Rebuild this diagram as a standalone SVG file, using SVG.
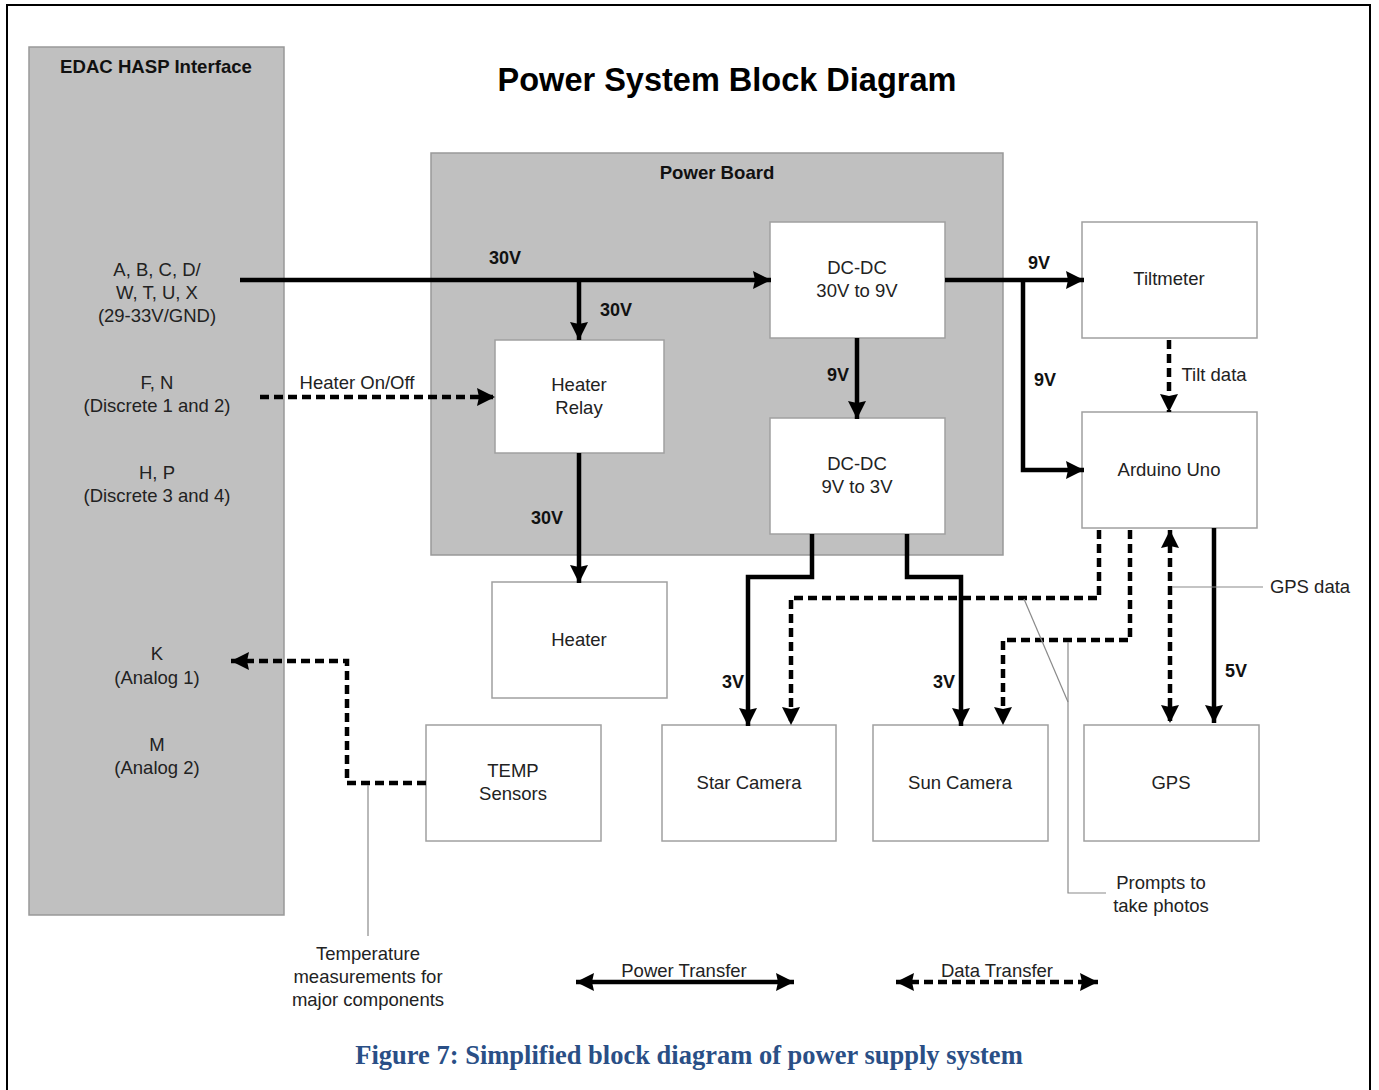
<svg xmlns="http://www.w3.org/2000/svg" width="1379" height="1090" viewBox="0 0 1379 1090">
<style>
.frame{fill:none;stroke:#000;stroke-width:2}
.panel{fill:#c0c0c0;stroke:#999;stroke-width:1.5}
.box{fill:#fff;stroke:#a0a0a0;stroke-width:1.5}
.t{font-family:"Liberation Sans",Arial,sans-serif;font-size:18.5px;fill:#222;text-anchor:middle}
.b{font-family:"Liberation Sans",Arial,sans-serif;font-weight:bold;font-size:18px;fill:#111;text-anchor:middle}
.hb{font-size:18.6px}
.title{font-family:"Liberation Sans",Arial,sans-serif;font-weight:bold;font-size:32.5px;fill:#000;text-anchor:middle}
.cap{font-family:"Liberation Serif","Times New Roman",serif;font-weight:bold;font-size:26.5px;fill:#2a4f86;text-anchor:middle}
.pw{fill:none;stroke:#000;stroke-width:4.5}
.dt{fill:none;stroke:#000;stroke-width:4.5;stroke-dasharray:9 5}
.call{fill:none;stroke:#8a8a8a;stroke-width:1.2}
</style>
<defs>
<marker id="ah" viewBox="0 0 18 18" refX="18" refY="9" markerWidth="18" markerHeight="18" markerUnits="userSpaceOnUse" orient="auto-start-reverse">
<path d="M0,0 L18,9 L0,18 L2,9 z" fill="#000"/>
</marker>
</defs>
<rect class="frame" x="7" y="5" width="1363" height="1100"/>
<g id="edac">
<rect class="panel" x="29" y="47" width="255" height="868"/>
<text class="b hb" x="156" y="73">EDAC HASP Interface</text>
<text class="t" x="157" y="276">A, B, C, D/</text>
<text class="t" x="157" y="299">W, T, U, X</text>
<text class="t" x="157" y="322">(29-33V/GND)</text>
<text class="t" x="157" y="389">F, N</text>
<text class="t" x="157" y="412">(Discrete 1 and 2)</text>
<text class="t" x="157" y="479">H, P</text>
<text class="t" x="157" y="502">(Discrete 3 and 4)</text>
<text class="t" x="157" y="660">K</text>
<text class="t" x="157" y="684">(Analog 1)</text>
<text class="t" x="157" y="751">M</text>
<text class="t" x="157" y="774">(Analog 2)</text>
</g>
<text class="title" x="727" y="91">Power System Block Diagram</text>
<g id="powerboard">
<rect class="panel" x="431" y="153" width="572" height="402"/>
<text class="b hb" x="717" y="179">Power Board</text>
</g>
<g id="dcdc1"><rect class="box" x="770" y="222" width="175" height="116"/><text class="t" x="857" y="274">DC-DC</text><text class="t" x="857" y="297">30V to 9V</text></g>
<g id="relay"><rect class="box" x="495" y="340" width="169" height="113"/><text class="t" x="579" y="391">Heater</text><text class="t" x="579" y="414">Relay</text></g>
<g id="dcdc2"><rect class="box" x="770" y="418" width="175" height="116"/><text class="t" x="857" y="470">DC-DC</text><text class="t" x="857" y="493">9V to 3V</text></g>
<g id="tiltmeter"><rect class="box" x="1082" y="222" width="175" height="116"/><text class="t" x="1169" y="285">Tiltmeter</text></g>
<g id="arduino"><rect class="box" x="1082" y="412" width="175" height="116"/><text class="t" x="1169" y="476">Arduino Uno</text></g>
<g id="heater"><rect class="box" x="492" y="582" width="175" height="116"/><text class="t" x="579" y="646">Heater</text></g>
<g id="temp"><rect class="box" x="426" y="725" width="175" height="116"/><text class="t" x="513" y="777">TEMP</text><text class="t" x="513" y="800">Sensors</text></g>
<g id="starcam"><rect class="box" x="662" y="725" width="174" height="116"/><text class="t" x="749" y="789">Star Camera</text></g>
<g id="suncam"><rect class="box" x="873" y="725" width="175" height="116"/><text class="t" x="960" y="789">Sun Camera</text></g>
<g id="gps"><rect class="box" x="1084" y="725" width="175" height="116"/><text class="t" x="1171" y="789">GPS</text></g>
<g id="connectors">
<path class="pw" d="M240,280 H771" marker-end="url(#ah)"/>
<path class="pw" d="M579,280 V340" marker-end="url(#ah)"/>
<path class="pw" d="M579,453 V583" marker-end="url(#ah)"/>
<path class="pw" d="M857,338 V419" marker-end="url(#ah)"/>
<path class="pw" d="M945,280 H1084" marker-end="url(#ah)"/>
<path class="pw" d="M1023,280 V470 H1084" marker-end="url(#ah)"/>
<path class="pw" d="M812,534 V577 H748 V726" marker-end="url(#ah)"/>
<path class="pw" d="M907,534 V577 H961 V726" marker-end="url(#ah)"/>
<path class="pw" d="M1214,528 V723" marker-end="url(#ah)"/>
<path class="dt" d="M260,397 H495" marker-end="url(#ah)"/>
<path class="dt" d="M1169,340 V412" marker-end="url(#ah)"/>
<path class="dt" d="M1099,530 V598 H791 V725" marker-end="url(#ah)"/>
<path class="dt" d="M1130,530 V640 H1003 V725" marker-end="url(#ah)"/>
<path class="dt" d="M1170,530 V723" marker-start="url(#ah)" marker-end="url(#ah)"/>
<path class="dt" d="M426,783 H347 V661 H231" marker-end="url(#ah)"/>
<path class="call" d="M1172,587 H1263"/>
<path class="call" d="M1024,599 L1068,702"/>
<path class="call" d="M1068,642 V893 H1106"/>
<path class="call" d="M368,785 V936"/>
<text class="b" x="505" y="264">30V</text>
<text class="b" x="616" y="316">30V</text>
<text class="b" x="547" y="524">30V</text>
<text class="b" x="838" y="381">9V</text>
<text class="b" x="1039" y="269">9V</text>
<text class="b" x="1045" y="386">9V</text>
<text class="b" x="733" y="688">3V</text>
<text class="b" x="944" y="688">3V</text>
<text class="b" x="1236" y="677">5V</text>
<text class="t" x="357" y="389">Heater On/Off</text>
<text class="t" x="1214" y="381">Tilt data</text>
<text class="t" x="1310" y="593">GPS data</text>
<text class="t" x="1161" y="889">Prompts to</text>
<text class="t" x="1161" y="912">take photos</text>
<text class="t" x="368" y="960">Temperature</text>
<text class="t" x="368" y="983">measurements for</text>
<text class="t" x="368" y="1006">major components</text>
</g>
<g id="legend">
<path class="pw" d="M576,982 H794" marker-start="url(#ah)" marker-end="url(#ah)"/>
<text class="t" x="684" y="977">Power Transfer</text>
<path class="dt" d="M896,982 H1098" marker-start="url(#ah)" marker-end="url(#ah)"/>
<text class="t" x="997" y="977">Data Transfer</text>
</g>
<text class="cap" x="689" y="1064">Figure 7: Simplified block diagram of power supply system</text>
</svg>
